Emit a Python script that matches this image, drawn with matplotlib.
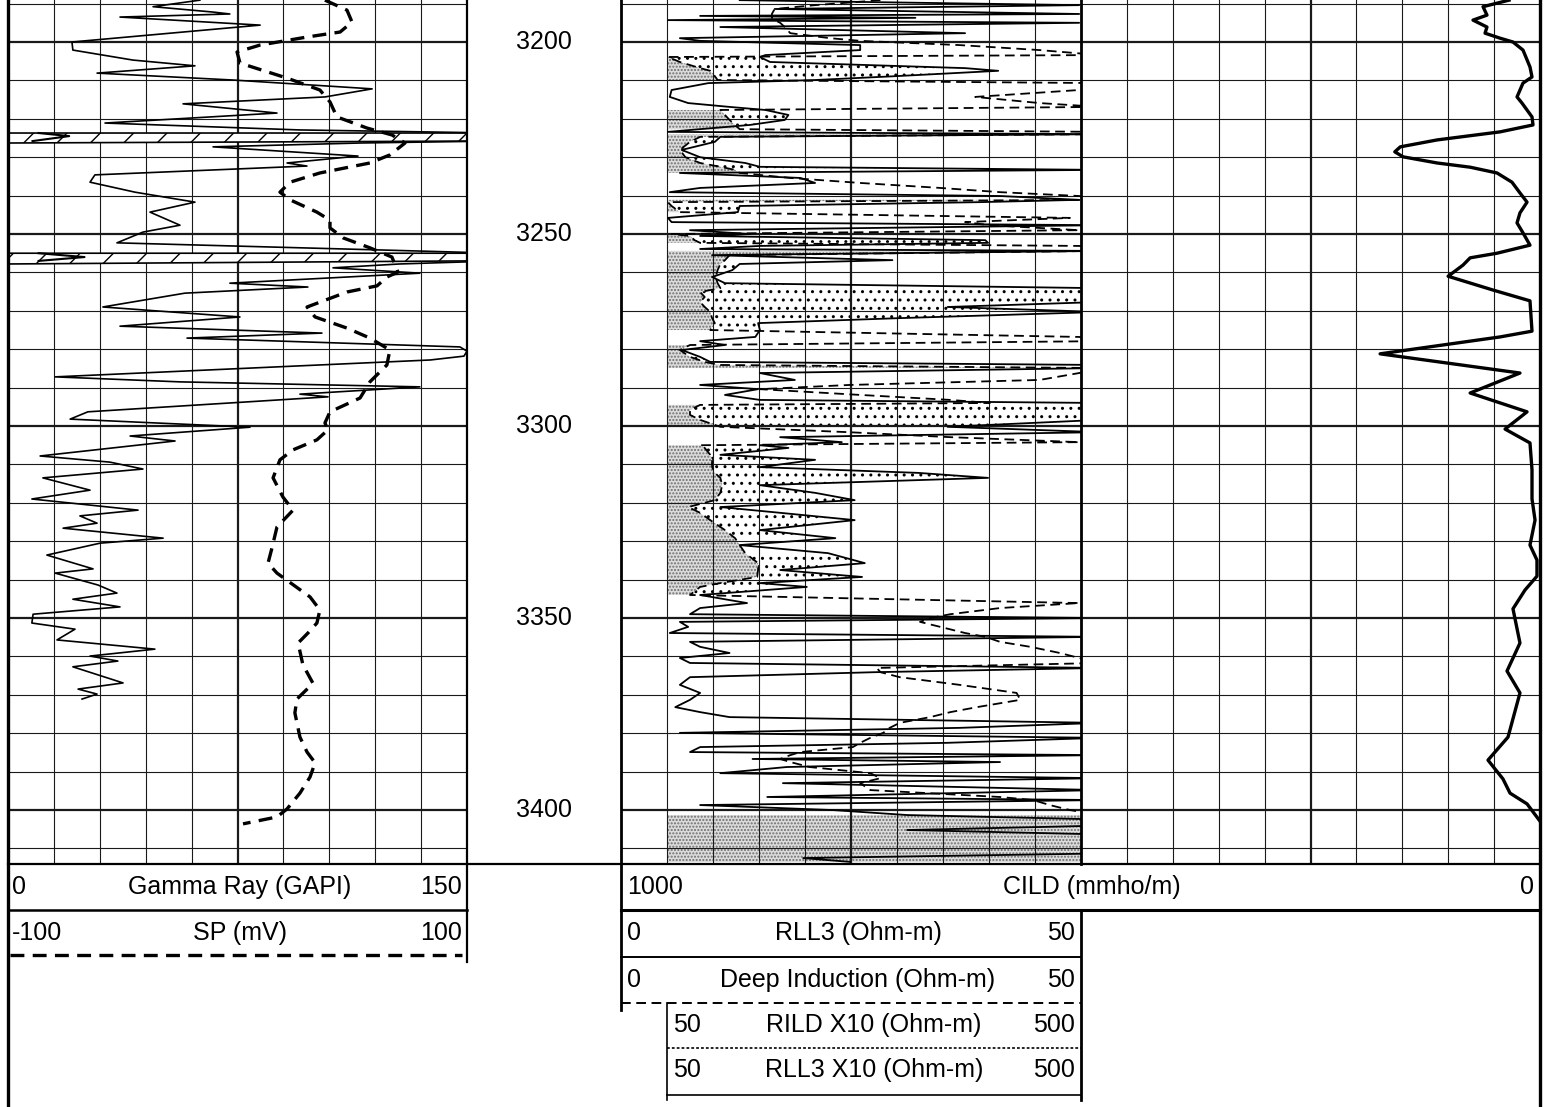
import numpy as np
import matplotlib
matplotlib.use('Agg')
import matplotlib.pyplot as plt

plt.rcParams['font.family'] = ['Liberation Sans', 'DejaVu Sans']
plt.rcParams['lines.scale_dashes'] = False
plt.rcParams['hatch.linewidth'] = 1.0

top_depth = 3189.06
bot_depth = 3414.05
depth_labels = [3200, 3250, 3300, 3350, 3400]

gr_depth = [3189.1, 3190.8, 3192.2, 3192.7, 3193.5, 3195.6, 3200.0, 3202.1, 3204.7, 3206.2,
            3208.1, 3209.9, 3212.2, 3214.3, 3216.1, 3218.5, 3221.1, 3222.9, 3223.7, 3224.5,
            3225.8, 3226.3, 3227.3, 3229.7, 3231.5, 3232.3, 3234.6, 3236.5, 3239.1, 3241.7,
            3244.3, 3247.7, 3249.5, 3252.3, 3254.2, 3255.0, 3256.0, 3257.0, 3257.8, 3258.8,
            3260.2, 3262.8, 3263.8, 3265.4, 3269.0, 3271.6, 3274.0, 3275.8, 3277.1, 3279.4,
            3280.5, 3281.8, 3282.8, 3287.2, 3288.5, 3289.8, 3291.7, 3292.4, 3296.3, 3298.2,
            3300.3, 3302.6, 3303.9, 3307.8, 3309.4, 3311.2, 3313.5, 3316.7, 3319.0, 3321.9,
            3323.4, 3325.3, 3326.6, 3329.2, 3330.5, 3333.6, 3337.2, 3338.3, 3341.4, 3343.5,
            3345.1, 3347.1, 3349.0, 3351.3, 3352.9, 3355.7, 3358.1, 3359.9, 3361.2, 3362.7,
            3366.9, 3368.5, 3369.8, 3371.1]
gr_api = [62.7, 47.4, 67, 72.5, 36.6, 82.4, 20.9, 21.2, 40.8, 61.1,
          29.1, 73.5, 119, 103.6, 57.2, 87.9, 31.7, 95.4, 160, 170,
          158, 115, 67, 114.4, 91.2, 97.7, 28.4, 26.8, 41.5, 61.1,
          46.4, 56.2, 44.1, 35.6, 123.9, 160, 175, 160, 128, 106.2,
          134.6, 72.5, 98, 57.8, 31, 75.8, 36.6, 102.6, 58.5, 147.7,
          150, 149, 138, 15.4, 56.2, 134.6, 95.4, 104.6, 26.1, 20.3,
          79.1, 39.9, 54.6, 10.5, 33.3, 44.1, 11.4, 26.8, 7.8, 42.5,
          23.5, 29.1, 18, 50.7, 30.1, 12.7, 27.8, 15.4, 29.4, 35.6,
          21.2, 36.6, 8.2, 7.8, 21.9, 16, 48, 26.8, 35.9, 21.2,
          37.6, 22.9, 29.1, 24.2]

sp_depth = [3189.1, 3191.7, 3194.8, 3197.4, 3198.7, 3200.8, 3202.6, 3205.5, 3209.4, 3212.5,
            3215.6, 3219.5, 3222.4, 3224.2, 3226.3, 3229.4, 3231.5, 3234.1, 3236.5, 3239.1,
            3241.1, 3244.3, 3246.4, 3248.4, 3251.0, 3253.6, 3256.0, 3259.9, 3261.2, 3263.5,
            3265.1, 3269.0, 3271.6, 3274.5, 3277.1, 3280.2, 3284.1, 3288.5, 3292.7, 3296.3,
            3299.2, 3301.0, 3303.6, 3306.2, 3308.8, 3313.5, 3318.5, 3321.9, 3326.3, 3331.8,
            3335.7, 3338.3, 3344.5, 3347.9, 3351.3, 3353.9, 3356.5, 3362.2, 3367.0, 3371.1,
            3374.7, 3381.0, 3384.9, 3387.7, 3391.4, 3395.6, 3399.7, 3401.8, 3403.6]
sp_mv = [38.1, 47.7, 49.9, 44.7, 30.3, 9.8, -0.2, 1.1, 21.6, 35.9,
         40.3, 43.3, 56.4, 67.3, 73, 66.4, 57.7, 35.9, 22.9, 18.5,
         22.9, 34.6, 40.3, 40.3, 46, 57.7, 67.3, 69.9, 65.1, 60.8,
         47.7, 30.3, 33.8, 47.7, 57.7, 66.4, 65.1, 57.7, 53.4, 40.3,
         38.1, 39.4, 34.6, 24.2, 18.5, 15.5, 19.8, 24.2, 17.2, 15,
         13.3, 17.2, 31.6, 35.9, 34.6, 30.7, 26.4, 28.5, 32.9, 25.9,
         25, 27.2, 30.3, 33.8, 31.6, 27.2, 21.6, 17.2, 2.4]

res_depth = [3189.1, 3190.4, 3191.4, 3192.7, 3193.2, 3193.7, 3194.3, 3195.0, 3196.1, 3197.7,
             3199.0, 3199.7, 3200.8, 3202.1, 3203.4, 3203.9, 3205.2, 3206.8, 3207.5, 3208.9,
             3209.9, 3210.7, 3212.5, 3214.3, 3215.9, 3216.9, 3217.7, 3219.0, 3220.3, 3221.6,
             3222.7, 3223.4, 3224.0, 3224.7, 3226.0, 3228.1, 3230.0, 3231.5, 3232.5, 3233.3,
             3234.1, 3235.4, 3236.7, 3238.0, 3239.1, 3240.1, 3241.1, 3241.7, 3242.7, 3244.3,
             3245.8, 3246.9, 3247.7, 3249.0, 3250.0, 3250.5, 3251.6, 3252.3, 3253.1, 3253.9,
             3254.4, 3255.5, 3256.8, 3257.8, 3259.4, 3261.2, 3262.8, 3264.1, 3265.1, 3266.4,
             3267.7, 3269.0, 3270.3, 3271.9, 3273.2, 3275.0, 3276.8, 3277.9, 3278.9, 3280.2,
             3282.0, 3283.3, 3284.1, 3284.9, 3286.2, 3288.0, 3289.3, 3290.4, 3291.9, 3293.2,
             3294.0, 3294.5, 3295.8, 3297.1, 3298.4, 3300.2, 3301.6, 3302.9, 3304.2, 3305.0,
             3305.7, 3307.5, 3308.8, 3310.7, 3312.2, 3313.5, 3315.4, 3317.4, 3319.3, 3321.1,
             3322.6, 3324.5, 3327.1, 3329.2, 3331.0, 3333.1, 3335.7, 3337.5, 3339.3, 3340.9,
             3341.9, 3344.0, 3346.1, 3347.4, 3349.0, 3350.0, 3351.0, 3352.3, 3353.9, 3354.9,
             3356.2, 3357.5, 3359.1, 3360.4, 3361.7, 3363.0, 3364.1, 3365.4, 3367.4, 3369.5,
             3371.3, 3373.2, 3374.5, 3375.8, 3377.3, 3378.6, 3379.9, 3381.2, 3382.5, 3383.6,
             3384.9, 3385.7, 3386.7, 3387.5, 3388.8, 3390.4, 3391.7, 3393.0, 3394.8, 3396.6,
             3397.4, 3398.7, 3400.0, 3401.3, 3402.6, 3403.9, 3405.2, 3406.5, 3407.8, 3409.9,
             3411.2, 3412.5, 3413.5]
rll3_ohmm = [12.9, 49.8, 16.7, 49.8, 8.6, 32.0, 5.1, 49.8, 10.8, 37.4,
             6.4, 8.6, 26.0, 26.0, 15.7, 15.1, 16.2, 37.4, 41.0, 29.8,
             21.1, 9.5, 5.5, 5.3, 7.3, 11.8, 15.7, 18.2, 17.8, 14.0,
             8.6, 5.1, 52, 10.8, 10.2, 6.6, 8.6, 13.5, 15.1, 52,
             6.4, 19.5, 21.1, 8.6, 5.3, 41.2, 49.8, 39.0, 12.9, 12.7,
             5.1, 5.5, 52, 7.5, 14.0, 8.6, 39.6, 39.9, 15.1, 8.6,
             52, 9.9, 29.5, 12.9, 12.1, 9.9, 11.3, 52, 52, 52,
             52, 35.5, 52, 30.3, 14.9, 15.1, 14.6, 8.6, 11.3, 6.6,
             8.6, 9.7, 52, 52, 15.1, 18.9, 8.6, 14.9, 11.3, 15.1,
             52, 52, 52, 52, 52, 35.5, 52, 17.3, 24.0, 15.1,
             18.2, 10.8, 21.1, 15.1, 32.3, 39.9, 15.1, 21.1, 25.4, 10.8,
             17.3, 25.4, 15.1, 23.3, 12.9, 22.5, 26.5, 17.3, 26.2, 15.1,
             20.2, 8.6, 13.7, 8.6, 7.5, 52, 6.4, 7.3, 5.3, 52,
             7.5, 8.6, 11.8, 6.4, 7.5, 52, 27.6, 7.5, 6.4, 8.6,
             7.5, 5.9, 8.6, 11.8, 52, 36.8, 6.4, 52, 35.4, 8.6,
             7.5, 52, 14.3, 41.2, 18.0, 10.8, 52, 17.6, 52, 15.9,
             52, 8.6, 23.0, 31.1, 55, 55, 31.1, 55, 55, 55,
             55, 19.8, 24.9]
deep_ohmm = [28.2, 21.1, 16.7, 16.4, 16.4, 16.4, 16.7, 17.3, 17.8, 18.4,
             22.7, 26.0, 36.8, 45.5, 52, 5.1, 6.4, 8.6, 9.7, 10.2,
             10.5, 52, 49.8, 38.5, 45.5, 52, 10.8, 11.3, 11.8, 12.4,
             12.9, 52, 52, 8.6, 7.5, 6.4, 7.0, 8.6, 10.8, 12.4,
             12.9, 18.4, 26.0, 34.7, 41.2, 49.8, 52, 5.1, 5.5, 6.4,
             48.8, 37.4, 40.1, 49.8, 5.5, 7.5, 8.0, 8.6, 49.8, 52,
             52, 11.8, 11.3, 10.8, 10.5, 10.3, 10.5, 10.8, 8.6, 9.1,
             8.6, 9.1, 9.7, 9.9, 10.2, 9.7, 49.8, 52, 7.5, 6.4,
             7.5, 9.1, 10.8, 52, 49.8, 45.5, 24.9, 15.1, 26.0, 35.8,
             40.1, 8.6, 7.5, 7.5, 8.6, 10.8, 24.7, 35.8, 49.8, 8.6,
             9.1, 9.7, 9.9, 9.9, 10.2, 10.8, 11.0, 10.8, 10.2, 7.3,
             8.6, 9.7, 11.3, 12.4, 12.9, 13.5, 14.9, 14.9, 14.8, 10.8,
             8.6, 7.5, 49.8, 41.2, 35.8, 33.6, 32.5, 34.7, 37.4, 39.6,
             41.2, 44.5, 47.7, 49.8, 52, 27.8, 28.2, 30.3, 36.8, 43.0,
             43.4, 38.7, 35.8, 33.6, 30.3, 29.2, 28.5, 27.1, 26.0, 25.2,
             19.5, 18.4, 17.3, 18.4, 20.5, 27.1, 28.2, 26.0, 27.1, 41.2,
             44.8, 46.6, 48.8, 52, 52, 52, 52, 52, 52, 52,
             52, 52, 52]

cild_depth = [3189.1, 3190.8, 3193.0, 3194.3, 3196.1, 3197.7, 3199.0, 3200.0, 3202.1, 3206.5,
              3209.1, 3210.7, 3214.3, 3215.9, 3219.5, 3221.6, 3223.4, 3225.5, 3227.3, 3228.6,
              3229.9, 3231.5, 3232.6, 3234.1, 3236.5, 3239.3, 3241.7, 3244.5, 3247.1, 3249.7,
              3252.9, 3255.0, 3256.2, 3258.1, 3261.0, 3264.6, 3267.4, 3275.3, 3276.8, 3281.2,
              3286.2, 3291.4, 3296.3, 3300.8, 3304.4, 3311.4, 3319.0, 3324.5, 3331.0, 3334.9,
              3339.1, 3342.7, 3347.6, 3356.5, 3363.8, 3369.5, 3381.0, 3387.0, 3391.9, 3395.6,
              3398.4, 3402.9]
cild_mmho = [33.7, 62, 57.7, 72.9, 57.7, 59.8, 43.5, 29.4, 18.5, 10.9,
             8.7, 18.5, 25, 19.6, 8.7, 7.6, 43.5, 112, 152, 158,
             149, 112, 76, 46.8, 30.5, 21.8, 14.1, 21.8, 25, 18.5,
             10.9, 46.8, 76, 83.8, 100, 51, 10.9, 8.7, 43.5, 174,
             21.8, 76, 14.1, 38, 10.9, 8.7, 8.7, 5.4, 10.9, 3.3,
             3.3, 16.3, 29.4, 21.8, 35.9, 21.8, 34.8, 56.6, 40.3, 32.6,
             14.1, 0]

# header rows: (left value, name, right value)
track1_heads = [('0', 'Gamma Ray (GAPI)', '150'), ('-100', 'SP (mV)', '100')]
track2_heads = [('0', 'RLL3 (Ohm-m)', '50'), ('0', 'Deep Induction (Ohm-m)', '50')]
backup_heads = [('50', 'RILD X10 (Ohm-m)', '500'), ('50', 'RLL3 X10 (Ohm-m)', '500')]
cild_head = ('1000', 'CILD (mmho/m)', '0')

# ---------------- layout ----------------
W, H = 1544, 1107
FS = 18
fig = plt.figure(figsize=(W / 100, H / 100), dpi=100)


def rect(x0, x1, y0=0, y1=864):
    return [x0 / W, 1 - y1 / H, (x1 - x0) / W, (y1 - y0) / H]


def grid_track(ax, lo, hi):
    ax.set_xlim(lo, hi)
    ax.set_ylim(bot_depth, top_depth)
    step = (hi - lo) / 10.0
    for i in range(1, 10):
        ax.axvline(lo + i * step, color='#1a1a1a', lw=1.6 if i == 5 else 0.8, zorder=2.5)
    for d in range(3190, 3415, 10):
        ax.axhline(d, color='#1a1a1a', lw=1.6 if d % 50 == 0 else 0.8, zorder=2.5)
    ax.set_xticks([])
    ax.set_yticks([])
    for s in ax.spines.values():
        s.set_visible(False)


# track 1: gamma ray + SP
ax1 = fig.add_axes(rect(8, 467))
grid_track(ax1, 0, 150)
gr = np.array(gr_api)
grd = np.array(gr_depth)
ax1.fill_betweenx(grd, 0, 150, where=gr > 150, interpolate=True, facecolor='white',
                  hatch='/', edgecolor='black', lw=1.2, zorder=3)
ax1.plot(gr, grd, color='black', lw=1.2, zorder=4)
ax1.plot(np.where(gr > 150, gr - 150, np.nan), grd, color='black', lw=1.5, zorder=4)

ax1b = ax1.twiny()
ax1b.set_xlim(-100, 100)
ax1b.set_ylim(bot_depth, top_depth)
ax1b.plot(sp_mv, sp_depth, color='black', lw=2.4, dashes=(10, 6), zorder=4)
ax1b.set_xticks([])
for s in ax1b.spines.values():
    s.set_visible(False)

# depth column
axd = fig.add_axes(rect(467, 621))
axd.set_xlim(0, 1)
axd.set_ylim(bot_depth, top_depth)
axd.axis('off')
for d in depth_labels:
    axd.text(0.5, d, str(d), ha='center', va='center', fontsize=FS)

# track 2: resistivities
ax2 = fig.add_axes(rect(621, 1081))
grid_track(ax2, 0, 50)
rd = np.array(res_depth)
rll3 = np.array(rll3_ohmm)
deep = np.array(deep_ohmm)
# stipple from the 5 ohm-m line to the deep curve where it sits near the left,
# across the whole track where deep runs off scale over a resistive rll3
both_off = (deep >= 50) & (rll3 >= 19)
stip_hi = np.where(both_off, 50, np.minimum(deep, 50))
ax2.fill_betweenx(rd, 5, stip_hi, where=(deep < 16) | both_off,
                  facecolor='#dcdcdc', hatch='.....', edgecolor='#6e6e6e', lw=0, zorder=2)
ax2.fill_betweenx(rd, np.minimum(deep, 50), np.minimum(rll3, 50),
                  where=(rll3 > deep) & (deep < 16),
                  facecolor='none', hatch='..', edgecolor='black', lw=0, zorder=2)
ax2.plot(rll3, rd, color='black', lw=1.3, zorder=4)
ax2.plot(deep, rd, color='black', lw=1.3, dashes=(7, 4), zorder=4)

# track 3 grid
ax3 = fig.add_axes(rect(1081, 1540))
grid_track(ax3, 0, 1)

# CILD over tracks 2 and 3
axc = fig.add_axes(rect(621, 1540))
axc.set_xlim(1000, 0)
axc.set_ylim(bot_depth, top_depth)
axc.plot(cild_mmho, cild_depth, color='black', lw=2.4, zorder=5)
axc.axis('off')

# ---------------- borders and header boxes ----------------
axo = fig.add_axes([0, 0, 1, 1])
axo.set_xlim(0, W)
axo.set_ylim(H, 0)
axo.axis('off')

k = 'black'
axo.plot([8, 8], [0, H], color=k, lw=2.4)
axo.plot([467, 467], [0, 962], color=k, lw=1.6)
axo.plot([621, 621], [0, 1010], color=k, lw=2.0)
axo.plot([1081, 1081], [0, 864], color=k, lw=2.0)
axo.plot([1081, 1081], [910, 1100], color=k, lw=2.0)
axo.plot([1540, 1540], [0, H], color=k, lw=2.4)
axo.plot([8, 1540], [864, 864], color=k, lw=1.6)

# track 1 headers
for i, (lv, name, rv) in enumerate(track1_heads):
    y = 887 + 46 * i
    axo.text(12, y, lv, ha='left', va='center', fontsize=FS)
    axo.text(240, y, name, ha='center', va='center', fontsize=FS)
    axo.text(462, y, rv, ha='right', va='center', fontsize=FS)
axo.plot([8, 467], [910, 910], color=k, lw=1.8)
axo.plot([10, 462], [955, 955], color=k, lw=2.4, dashes=(10, 6))

# CILD header
axo.text(627, 887, cild_head[0], ha='left', va='center', fontsize=FS)
axo.text(1092, 887, cild_head[1], ha='center', va='center', fontsize=FS)
axo.text(1534, 887, cild_head[2], ha='right', va='center', fontsize=FS)
axo.plot([621, 1540], [910, 910], color=k, lw=2.2)

# track 2 headers
for i, (lv, name, rv) in enumerate(track2_heads):
    y = 933 + 47 * i
    axo.text(627, y, lv, ha='left', va='center', fontsize=FS)
    axo.text(858, y, name, ha='center', va='center', fontsize=FS)
    axo.text(1075, y, rv, ha='right', va='center', fontsize=FS)
axo.plot([621, 1081], [957, 957], color=k, lw=1.4)
axo.plot([621, 1081], [1003, 1003], color=k, lw=1.4, dashes=(7, 4))

for i, (lv, name, rv) in enumerate(backup_heads):
    y = 1025 + 45 * i
    axo.text(673, y, lv, ha='left', va='center', fontsize=FS)
    axo.text(874, y, name, ha='center', va='center', fontsize=FS)
    axo.text(1075, y, rv, ha='right', va='center', fontsize=FS)
axo.plot([667, 1081], [1048, 1048], color=k, lw=1.2, dashes=(2, 1.5))
axo.plot([667, 1081], [1095, 1095], color=k, lw=1.2)
axo.plot([667, 667], [1003, 1100], color=k, lw=1.2)

fig.savefig('out.png', dpi=100)
